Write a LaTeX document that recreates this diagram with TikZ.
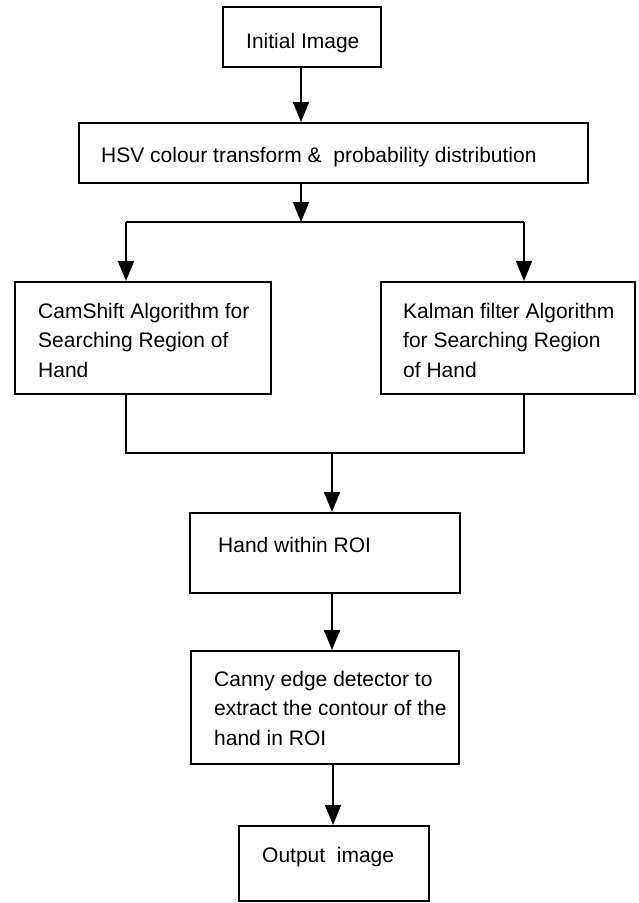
\documentclass[tikz,border=0pt]{standalone}
\usepackage{fontspec}
\setmainfont{Liberation Sans}
\usetikzlibrary{arrows.meta}
\begin{document}
\begin{tikzpicture}[x=1pt,y=-1pt,
  box/.style={draw=black,line width=1.8pt,fill=white,inner sep=0pt,anchor=north west},
  txt/.style={inner sep=0pt,anchor=base west,align=left,font=\fontsize{21}{29.5}\selectfont},
  conn/.style={line width=1.8pt},
  arr/.style={conn,-{Triangle[length=20pt,width=16pt]}}]
\useasboundingbox (0,0) rectangle (639,903);
% boxes
\node[box,minimum width=158pt,minimum height=60pt] (init) at (222,6) {};
\node[box,minimum width=509pt,minimum height=60pt] (hsv) at (78,122) {};
\node[box,minimum width=256pt,minimum height=112pt] (cam) at (14,281) {};
\node[box,minimum width=254pt,minimum height=112pt] (kal) at (380,281) {};
\node[box,minimum width=270pt,minimum height=80pt] (hand) at (189,512) {};
\node[box,minimum width=268pt,minimum height=113pt] (canny) at (190,650) {};
\node[box,minimum width=190pt,minimum height=75pt] (out) at (238,825) {};
% texts (multi-line texts are anchored at the baseline of their last line)
\node[txt] (initT) at (246,48) {Initial Image};
\node[txt] (hsvT) at (101,162) {HSV colour transform \&~~probability distribution};
\node[txt] (camT) at (38,377) {CamShift Algorithm for\\Searching Region of\\Hand};
\node[txt] (kalT) at (403,377) {Kalman filter Algorithm\\for Searching Region\\of Hand};
\node[txt] (handT) at (218,552) {Hand within ROI};
\node[txt] (cannyT) at (214,745) {Canny edge detector to\\extract the contour of the\\hand in ROI};
\node[txt] (outT) at (262,862) {Output~~image};
% junction coordinates
\coordinate (split) at (301,222);
\coordinate (splitL) at (126,222);
\coordinate (splitR) at (524,222);
\coordinate (joinL) at (126,453);
\coordinate (joinR) at (524,453);
\coordinate (joinC) at (332,453);
% connectors
\draw[arr] (301,0 |- init.south) -- (split |- hsv.north);
\draw[arr] (split |- hsv.south) -- (split);
\draw[conn] (splitL) -- (splitR);
\draw[arr] (splitL) -- (splitL |- cam.north);
\draw[arr] (splitR) -- (splitR |- kal.north);
\draw[conn] (joinL |- cam.south) -- (joinL) -- (joinR) -- (joinR |- kal.south);
\draw[arr] (joinC) -- (joinC |- hand.north);
\draw[arr] (332,0 |- hand.south) -- (332,0 |- canny.north);
\draw[arr] (333,0 |- canny.south) -- (333,0 |- out.north);
\end{tikzpicture}
\end{document}
